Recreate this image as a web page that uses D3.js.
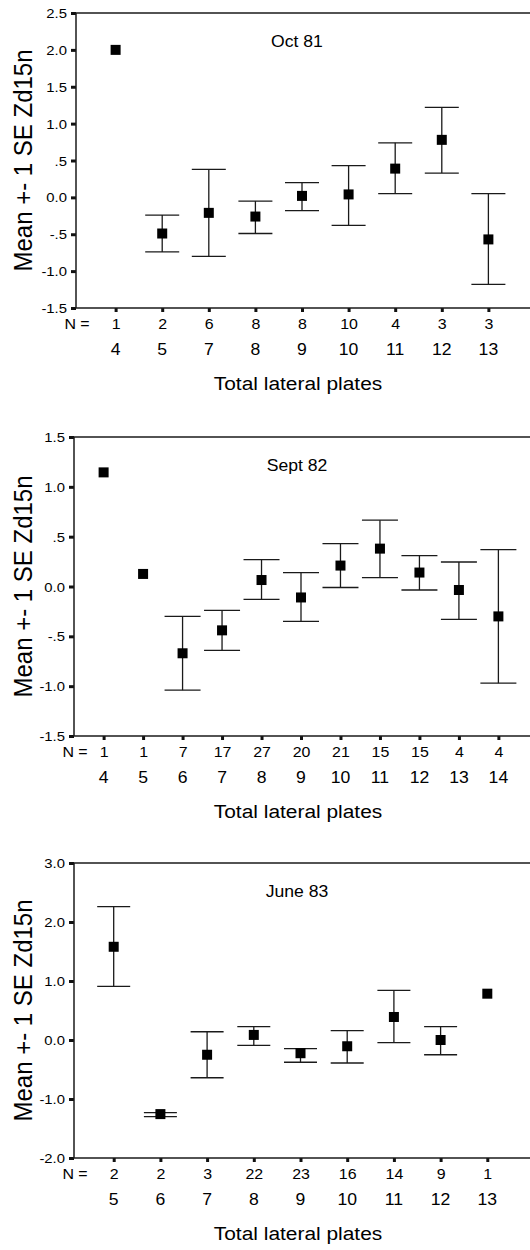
<!DOCTYPE html>
<meta charset="utf-8">
<html>
<head>
<title>Zd15n by total lateral plates</title>
<script src="https://d3js.org/d3.v7.min.js"></script>
<style>
  body{margin:0;background:#fff;}
  text{font-family:"Liberation Sans",Arial,sans-serif;fill:#000;}
  .frame{stroke:#1a1a1a;stroke-width:1.5;fill:none;}
  .tick line{stroke:#111;stroke-width:3;}
  .bar{stroke:#1a1a1a;stroke-width:1.3;fill:none;}
</style>
</head>
<body>
<div id="plot"></div>
<script>
// Oct 81
var octPlates = [4,5,7,8,9,10,11,12,13];
var octN      = [1,2,6,8,8,10,4,3,3];
var octMean   = [2.00,-0.49,-0.21,-0.26,0.02,0.04,0.39,0.78,-0.57];
var octUpper  = [null,-0.24,0.38,-0.05,0.20,0.43,0.74,1.22,0.05];
var octLower  = [null,-0.74,-0.80,-0.49,-0.18,-0.38,0.05,0.33,-1.18];
var octTicks  = [2.5,2.0,1.5,1.0,0.5,0,-0.5,-1.0,-1.5];
var octTickLabels = ["2.5","2.0","1.5","1.0",".5","0.0","-.5","-1.0","-1.5"];

// Sept 82
var sepPlates = [4,5,6,7,8,9,10,11,12,13,14];
var sepN      = [1,1,7,17,27,20,21,15,15,4,4];
var sepMean   = [1.145,0.126,-0.67,-0.44,0.065,-0.11,0.21,0.38,0.14,-0.035,-0.30];
var sepUpper  = [null,null,-0.30,-0.24,0.27,0.14,0.43,0.665,0.31,0.246,0.37];
var sepLower  = [null,null,-1.04,-0.64,-0.13,-0.35,-0.01,0.09,-0.035,-0.33,-0.97];
var sepTicks  = [1.5,1.0,0.5,0,-0.5,-1.0,-1.5];
var sepTickLabels = ["1.5","1.0",".5","0.0","-.5","-1.0","-1.5"];

// June 83
var junPlates = [5,6,7,8,9,10,11,12,13];
var junN      = [2,2,3,22,23,16,14,9,1];
var junMean   = [1.58,-1.256,-0.25,0.086,-0.224,-0.106,0.39,0.0,0.785];
var junUpper  = [2.26,-1.23,0.14,0.226,-0.146,0.16,0.84,0.226,null];
var junLower  = [0.91,-1.30,-0.64,-0.09,-0.377,-0.39,-0.044,-0.25,null];
var junTicks  = [3,2,1,0,-1,-2];
var junTickLabels = ["3.0","2.0","1.0","0.0","-1.0","-2.0"];

var W = 530, H = 1250;
var S = 1.1; // the scanned figure is a bit wider than tall

var svg = d3.select("#plot").append("svg")
    .attr("width", W)
    .attr("height", H);

var panels = [
  {title:"Oct 81", plates:octPlates, n:octN, mean:octMean, upper:octUpper, lower:octLower,
   ticks:octTicks, tickLabels:octTickLabels, domain:[-1.5,2.5],
   left:76, right:528, top:13, bottom:308, pad:0.85, cap:34},
  {title:"Sept 82", plates:sepPlates, n:sepN, mean:sepMean, upper:sepUpper, lower:sepLower,
   ticks:sepTicks, tickLabels:sepTickLabels, domain:[-1.5,1.5],
   left:74, right:528, top:437, bottom:736, pad:0.75, cap:36},
  {title:"June 83", plates:junPlates, n:junN, mean:junMean, upper:junUpper, lower:junLower,
   ticks:junTicks, tickLabels:junTickLabels, domain:[-2,3],
   left:74, right:527, top:863, bottom:1158, pad:0.85, cap:33}
];

panels.forEach(drawPanel);

function stretch(x, y){ return "translate(" + x + "," + y + ") scale(" + S + ",1)"; }

function drawPanel(p){
  var g = svg.append("g");

  var x = d3.scalePoint().domain(p.plates).range([p.left, p.right]).padding(p.pad);
  var y = d3.scaleLinear().domain(p.domain).range([p.bottom, p.top]);

  // y axis
  var ya = g.append("g")
      .attr("transform", "translate(" + p.left + ",0)")
      .call(d3.axisLeft(y).tickValues(p.ticks)
        .tickFormat(function(d, i){ return p.tickLabels[i]; })
        .tickSize(5));
  ya.select(".domain").remove();
  ya.selectAll(".tick text")
      .attr("x", 0).attr("dy", "0.34em")
      .attr("transform", stretch(-9, 0))
      .style("font-size", "13.5px");

  // x axis, N row as tick labels
  var xa = g.append("g")
      .attr("transform", "translate(0," + p.bottom + ")")
      .call(d3.axisBottom(x).tickSize(4)
        .tickFormat(function(d, i){ return p.n[i]; }));
  xa.select(".domain").remove();
  xa.selectAll(".tick text")
      .attr("y", 0).attr("dy", 0)
      .attr("transform", stretch(0, 21))
      .style("font-size", "14.5px");

  g.append("text")
      .attr("transform", stretch(p.left + 1, p.bottom + 21))
      .attr("text-anchor", "middle")
      .style("font-size", "14.5px")
      .text("N =");

  // plate counts
  g.selectAll(".plate")
      .data(p.plates)
    .enter().append("text")
      .attr("class", "plate")
      .attr("transform", function(d){ return stretch(x(d), p.bottom + 47); })
      .attr("text-anchor", "middle")
      .style("font-size", "16px")
      .text(function(d){ return d; });

  // frame
  g.append("line").attr("class", "frame")
      .attr("x1", p.left).attr("x2", W).attr("y1", p.top).attr("y2", p.top);
  g.append("line").attr("class", "frame")
      .attr("x1", p.left).attr("x2", W).attr("y1", p.bottom).attr("y2", p.bottom);
  g.append("line").attr("class", "frame")
      .attr("x1", p.left).attr("x2", p.left).attr("y1", p.top).attr("y2", p.bottom);

  var rows = p.plates.map(function(d, i){
    return {plate:d, mean:p.mean[i], upper:p.upper[i], lower:p.lower[i]};
  });
  var withBars = rows.filter(function(d){ return d.upper != null; });

  // error bars
  g.selectAll(".stem")
      .data(withBars)
    .enter().append("line")
      .attr("class", "bar")
      .attr("x1", function(d){ return x(d.plate); })
      .attr("x2", function(d){ return x(d.plate); })
      .attr("y1", function(d){ return y(d.upper); })
      .attr("y2", function(d){ return y(d.lower); });

  ["upper", "lower"].forEach(function(k){
    g.selectAll(".cap-" + k)
        .data(withBars)
      .enter().append("line")
        .attr("class", "bar")
        .attr("x1", function(d){ return x(d.plate) - p.cap / 2; })
        .attr("x2", function(d){ return x(d.plate) + p.cap / 2; })
        .attr("y1", function(d){ return y(d[k]); })
        .attr("y2", function(d){ return y(d[k]); });
  });

  // means
  g.selectAll(".dot")
      .data(rows)
    .enter().append("rect")
      .attr("class", "dot")
      .attr("x", function(d){ return x(d.plate) - 5; })
      .attr("y", function(d){ return y(d.mean) - 5; })
      .attr("width", 10)
      .attr("height", 10)
      .style("fill", "#000");

  // titles
  g.append("text")
      .attr("transform", stretch(297, p.top + 34))
      .attr("text-anchor", "middle")
      .style("font-size", "16px")
      .text(p.title);

  g.append("text")
      .attr("transform", stretch(298, p.bottom + 82))
      .attr("text-anchor", "middle")
      .style("font-size", "19px")
      .text("Total lateral plates");

  g.append("text")
      .attr("transform", "translate(32," + (p.top + p.bottom) / 2 + ") scale(" + S + ",1) rotate(-90)")
      .attr("text-anchor", "middle")
      .style("font-size", "24px")
      .text("Mean +- 1 SE Zd15n");
}
</script>
</body>
</html>
